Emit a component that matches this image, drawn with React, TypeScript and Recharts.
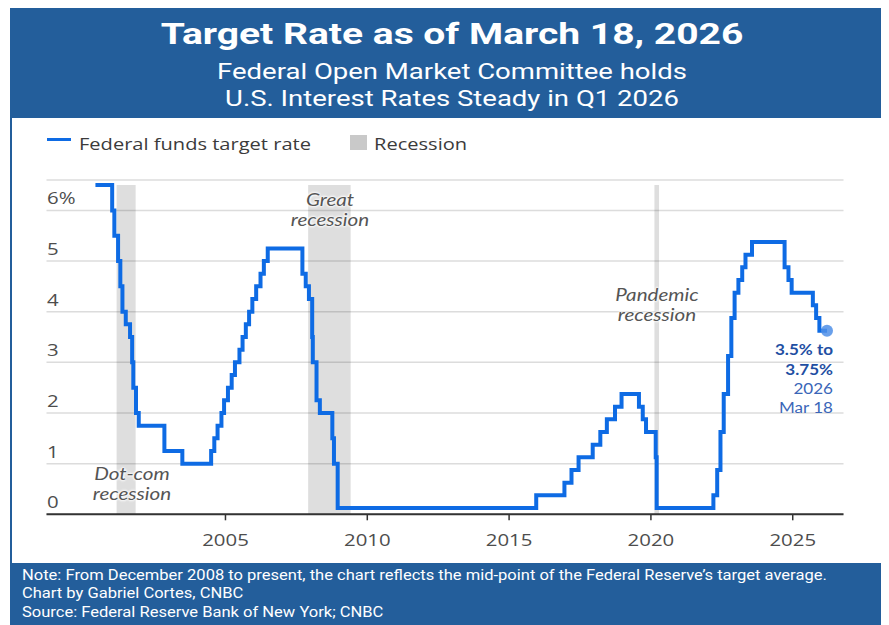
import React from "react";
import {
  LineChart,
  Line,
  XAxis,
  YAxis,
  CartesianGrid,
  ReferenceArea,
  ReferenceDot,
} from "recharts";

// fed funds target (mid-point of the range after Dec 2008), step changes
const rateDates = [
  "2000-06-01", "2001-01-03", "2001-01-31", "2001-03-20", "2001-04-18", "2001-05-15",
  "2001-06-27", "2001-08-21", "2001-09-17", "2001-10-02", "2001-11-06", "2001-12-11",
  "2002-11-06", "2003-06-25", "2004-06-30", "2004-08-10", "2004-09-21", "2004-11-10",
  "2004-12-14", "2005-02-02", "2005-03-22", "2005-05-03", "2005-06-30", "2005-08-09",
  "2005-09-20", "2005-11-01", "2005-12-13", "2006-01-31", "2006-03-28", "2006-05-10",
  "2006-06-29", "2007-09-18", "2007-10-31", "2007-12-11", "2008-01-22", "2008-01-30",
  "2008-03-18", "2008-04-30", "2008-10-08", "2008-10-29", "2008-12-16", "2015-12-16",
  "2016-12-14", "2017-03-15", "2017-06-14", "2017-12-13", "2018-03-21", "2018-06-13",
  "2018-09-26", "2018-12-19", "2019-07-31", "2019-09-18", "2019-10-30", "2020-03-03",
  "2020-03-15", "2022-03-16", "2022-05-04", "2022-06-15", "2022-07-27", "2022-09-21",
  "2022-11-02", "2022-12-14", "2023-02-01", "2023-03-22", "2023-05-03", "2023-07-26",
  "2024-09-18", "2024-11-07", "2024-12-18", "2025-09-17", "2025-10-29", "2025-12-10",
  "2026-03-18",
];
const rateValues = [
  6.5, 6.0, 5.5, 5.0, 4.5, 4.0,
  3.75, 3.5, 3.0, 2.5, 2.0, 1.75,
  1.25, 1.0, 1.25, 1.5, 1.75, 2.0,
  2.25, 2.5, 2.75, 3.0, 3.25, 3.5,
  3.75, 4.0, 4.25, 4.5, 4.75, 5.0,
  5.25, 4.75, 4.5, 4.25, 3.5, 3.0,
  2.25, 2.0, 1.5, 1.0, 0.125, 0.375,
  0.625, 0.875, 1.125, 1.375, 1.625, 1.875,
  2.125, 2.375, 2.125, 1.875, 1.625, 1.125,
  0.125, 0.375, 0.875, 1.625, 2.375, 3.125,
  3.875, 4.375, 4.625, 4.875, 5.125, 5.375,
  4.875, 4.625, 4.375, 4.125, 3.875, 3.625,
  3.625,
];

const recessionStarts = ["2001-03-01", "2007-12-01", "2020-02-15"];
const recessionEnds = ["2001-11-01", "2009-06-01", "2020-04-15"];

const xTicks = [2005, 2010, 2015, 2020, 2025];
const yTicks = [0, 1, 2, 3, 4, 5, 6];
const yTickLabels = ["0", "1", "2", "3", "4", "5", "6%"];

const toYear = (d: string) => {
  const [y, m, dd] = d.split("-").map(Number);
  const start = Date.UTC(y, 0, 1);
  const end = Date.UTC(y + 1, 0, 1);
  return y + (Date.UTC(y, m - 1, dd) - start) / (end - start);
};

const rateData = rateDates.map((d, i) => ({ t: toYear(d), rate: rateValues[i] }));
const lastPoint = rateData[rateData.length - 1];

const BLUE = "#235e9b";
const LINE = "#0e6be4";
const FONT = '"Open Sans", sans-serif';
const NFONT = "Lato, sans-serif";
const HFONT = "Roboto, sans-serif";
const PLOT_LEFT = 37;

const renderXTick = (props: any) => {
  const { x, y, payload } = props;
  return (
    <g transform={`translate(${x},${y})`}>
      <text
        y={24}
        textAnchor="middle"
        fill="#4d4d4d"
        fontSize={17}
        fontFamily={FONT}
        transform="scale(1.2,1)"
      >
        {payload.value}
      </text>
    </g>
  );
};

const renderYTick = (props: any) => {
  const { y, payload } = props;
  const idx = yTicks.indexOf(payload.value);
  return (
    <g transform={`translate(${PLOT_LEFT},${y - 6})`}>
      <text x={0} y={0} textAnchor="start" fill="#4d4d4d" fontSize={17} fontFamily={FONT} transform="scale(1.2,1)">
        {idx >= 0 ? yTickLabels[idx] : payload.value}
      </text>
    </g>
  );
};

type TxtProps = {
  x: number;
  y: number;
  anchor?: "start" | "middle" | "end";
  sx?: number;
  lh?: number;
  style?: React.CSSProperties;
  children: React.ReactNode;
};

const Txt = ({ x, y, anchor = "middle", sx = 1, lh, style, children }: TxtProps) => {
  const tx = anchor === "start" ? "0" : anchor === "end" ? "-100%" : "-50%";
  const origin = anchor === "start" ? "left center" : anchor === "end" ? "right center" : "center";
  return (
    <div
      style={{
        position: "absolute",
        left: x,
        top: y,
        whiteSpace: "nowrap",
        lineHeight: lh ? `${lh}px` : 1,
        textAlign: anchor === "start" ? "left" : anchor === "end" ? "right" : "center",
        transform: `translate(${tx},-50%) scaleX(${sx})`,
        transformOrigin: origin,
        ...style,
      }}
    >
      {children}
    </div>
  );
};

const halo = "0 0 2px #fff, 0 0 2px #fff, 0 0 3px #fff, 0 0 3px #fff";
const noteStyle: React.CSSProperties = {
  fontFamily: NFONT,
  fontStyle: "italic",
  fontSize: 16.5,
  color: "#555",
  textShadow: halo,
};
const endBold: React.CSSProperties = { fontFamily: NFONT, fontSize: 15.5, fontWeight: 700, color: "#1f4fa3" };
const endReg: React.CSSProperties = { fontFamily: NFONT, fontSize: 15.5, color: "#3a66b8" };
const footStyle: React.CSSProperties = { fontFamily: HFONT, fontSize: 14, color: "#fff" };

export default function App() {
  return (
    <div
      style={{
        position: "relative",
        marginLeft: 1.5,
        width: 878,
        height: 617,
        background: BLUE,
        fontFamily: HFONT,
      }}
    >
      <Txt x={442.5} y={26} sx={1.3} style={{ color: "#fff", fontWeight: 700, fontSize: 30 }}>
        Target Rate as of March 18, 2026
      </Txt>
      <Txt x={442.5} y={76.5} sx={1.25} lh={27} style={{ color: "#fff", fontSize: 22 }}>
        Federal Open Market Committee holds
        <br />
        U.S. Interest Rates Steady in Q1 2026
      </Txt>

      <div style={{ position: "absolute", left: 2, top: 110, width: 874, height: 445, background: "#fff" }} />

      <div
        style={{ position: "absolute", left: 37.5, top: 129.8, width: 24, height: 3.5, background: LINE }}
      />
      <Txt x={69.5} y={135} anchor="start" sx={1.18} style={{ fontFamily: FONT, fontSize: 17, color: "#3b3b3b" }}>
        Federal funds target rate
      </Txt>
      <div style={{ position: "absolute", left: 340.5, top: 127, width: 16.5, height: 14.5, background: "#c9c9c9" }} />
      <Txt x={364.5} y={135} anchor="start" sx={1.18} style={{ fontFamily: FONT, fontSize: 17, color: "#3b3b3b" }}>
        Recession
      </Txt>

      <div style={{ position: "absolute", left: 0, top: 110 }}>
        <LineChart
          width={878}
          height={445}
          data={rateData}
          margin={{ top: 62, right: 44.5, left: 35.5, bottom: 18.7 }}
        >
          <CartesianGrid vertical={false} stroke="#dcdcdc" strokeWidth={1.5} />
          <XAxis
            type="number"
            dataKey="t"
            domain={[1998.69, 2026.79]}
            ticks={xTicks}
            interval={0}
            allowDataOverflow
            height={30}
            axisLine={{ stroke: "#333", strokeWidth: 2 }}
            tickLine={{ stroke: "#333", strokeWidth: 1.5 }}
            tickSize={6}
            tick={renderXTick}
          />
          <YAxis
            type="number"
            domain={[0, 6.6]}
            ticks={yTicks}
            interval={0}
            width={1}
            axisLine={false}
            tickLine={false}
            tick={renderYTick}
          />
          {recessionStarts.map((s, i) => (
            <ReferenceArea
              key={s}
              x1={toYear(s)}
              x2={toYear(recessionEnds[i])}
              y1={0}
              y2={6.5}
              fill="#000"
              fillOpacity={0.13}
              stroke="none"
            />
          ))}
          <Line
            type="stepAfter"
            dataKey="rate"
            stroke={LINE}
            strokeWidth={4}
            dot={false}
            isAnimationActive={false}
          />
          <ReferenceDot x={lastPoint.t} y={lastPoint.rate} r={6} fill="#4f8fe8" fillOpacity={0.85} stroke="none" />
        </LineChart>
      </div>

      <Txt x={320.5} y={202} sx={1.25} lh={20} style={noteStyle}>
        Great
        <br />
        recession
      </Txt>
      <Txt x={122.5} y={476} sx={1.25} lh={20} style={noteStyle}>
        Dot-com
        <br />
        recession
      </Txt>
      <Txt x={647.2} y={297} sx={1.25} lh={20} style={noteStyle}>
        Pandemic
        <br />
        recession
      </Txt>

      <Txt x={823.8} y={351} anchor="end" sx={1.1} lh={20} style={endBold}>
        3.5% to
        <br />
        3.75%
      </Txt>
      <Txt x={823.8} y={389.5} anchor="end" sx={1.1} lh={19} style={endReg}>
        2026
        <br />
        Mar 18
      </Txt>

      <Txt x={12.2} y={585} anchor="start" sx={1.18} lh={18.3} style={footStyle}>
        Note: From December 2008 to present, the chart reflects the mid-point of the Federal Reserve’s target average.
        <br />
        Chart by Gabriel Cortes, CNBC
        <br />
        Source: Federal Reserve Bank of New York; CNBC
      </Txt>
    </div>
  );
}
